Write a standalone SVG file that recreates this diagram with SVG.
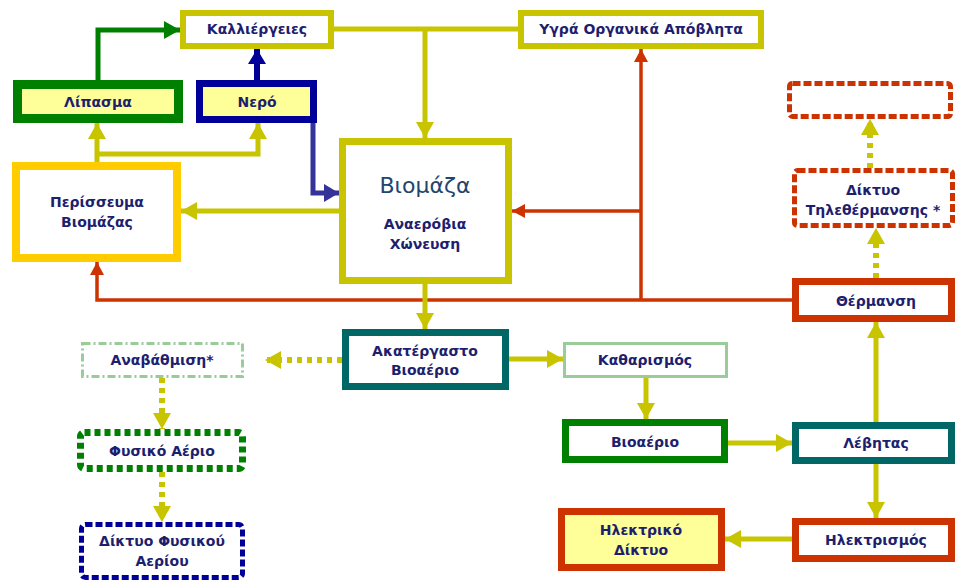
<svg xmlns="http://www.w3.org/2000/svg" width="955" height="581" viewBox="0 0 955 581">
<style>
text{font-family:"DejaVu Sans","Noto Sans",sans-serif;font-weight:bold;font-size:14px;fill:#1E1E6E;text-anchor:middle;dominant-baseline:central}
.big{font-size:22px;font-weight:normal;fill:#23446F}
.n rect{fill:#fff}
.y rect{fill:#FFFF99}
.conn path{fill:none;stroke-linejoin:miter}
</style>
<defs>
<marker id="aO" markerUnits="userSpaceOnUse" markerWidth="18" markerHeight="18" refX="16" refY="9" orient="auto"><path d="M0,0 L16,9 L0,18 z" fill="#C8C400"/></marker>
<marker id="aR" markerUnits="userSpaceOnUse" markerWidth="14" markerHeight="14" refX="13" refY="7" orient="auto"><path d="M0,0 L13,7 L0,14 z" fill="#CC3300"/></marker>
<marker id="aG" markerUnits="userSpaceOnUse" markerWidth="18" markerHeight="18" refX="16" refY="9" orient="auto"><path d="M0,0 L16,9 L0,18 z" fill="#008000"/></marker>
<marker id="aN" markerUnits="userSpaceOnUse" markerWidth="18" markerHeight="18" refX="15" refY="9" orient="auto"><path d="M0,0 L15,9 L0,18 z" fill="#000099"/></marker>
<marker id="aP" markerUnits="userSpaceOnUse" markerWidth="18" markerHeight="18" refX="15" refY="9" orient="auto"><path d="M0,0 L15,9 L0,18 z" fill="#333399"/></marker>
</defs>

<g id="connectors" class="conn">
<path d="M98,80 V30 H180" stroke="#008000" stroke-width="5" marker-end="url(#aG)"/>
<path d="M257,80 V49" stroke="#000099" stroke-width="6" marker-end="url(#aN)"/>
<path d="M313,123 V193 H339" stroke="#333399" stroke-width="5" marker-end="url(#aP)"/>
<path d="M97,162 V123" stroke="#C8C400" stroke-width="5" marker-end="url(#aO)"/>
<path d="M97,154 H258 V123" stroke="#C8C400" stroke-width="5" marker-end="url(#aO)"/>
<path d="M334,29 H518" stroke="#C8C400" stroke-width="5"/>
<path d="M425,29 V138" stroke="#C8C400" stroke-width="5" marker-end="url(#aO)"/>
<path d="M339,211 H181" stroke="#C8C400" stroke-width="5" marker-end="url(#aO)"/>
<path d="M792,300 H97 V262" stroke="#CC3300" stroke-width="3.5" marker-end="url(#aR)"/>
<path d="M641,300 V49" stroke="#CC3300" stroke-width="3.5" marker-end="url(#aR)"/>
<path d="M641,211 H512" stroke="#CC3300" stroke-width="3.5" marker-end="url(#aR)"/>
<path d="M425,284 V329" stroke="#C8C400" stroke-width="5" marker-end="url(#aO)"/>
<path d="M342,360 H265" stroke="#C8C400" stroke-width="6" stroke-dasharray="5 5" marker-end="url(#aO)"/>
<path d="M162,378 V429" stroke="#C8C400" stroke-width="6" stroke-dasharray="5 5" marker-end="url(#aO)"/>
<path d="M162,472 V522" stroke="#C8C400" stroke-width="6" stroke-dasharray="5 5" marker-end="url(#aO)"/>
<path d="M509,359 H563" stroke="#C8C400" stroke-width="5" marker-end="url(#aO)"/>
<path d="M646,378 V419" stroke="#C8C400" stroke-width="5" marker-end="url(#aO)"/>
<path d="M728,443 H792" stroke="#C8C400" stroke-width="5" marker-end="url(#aO)"/>
<path d="M876,422 V322" stroke="#C8C400" stroke-width="5" marker-end="url(#aO)"/>
<path d="M876,464 V518" stroke="#C8C400" stroke-width="5" marker-end="url(#aO)"/>
<path d="M792,539 H725" stroke="#C8C400" stroke-width="5" marker-end="url(#aO)"/>
<path d="M876,278 V228" stroke="#C8C400" stroke-width="6" stroke-dasharray="5 5" marker-end="url(#aO)"/>
<path d="M870,168 V119" stroke="#C8C400" stroke-width="6" stroke-dasharray="5 5" marker-end="url(#aO)"/>
</g>

<g id="kalliergeies" class="n"><rect x="183" y="13" width="148" height="33" stroke="#C8C400" stroke-width="6"/><text x="257" y="29">Καλλιέργειες</text></g>
<g id="lipasma" class="y"><rect x="17.5" y="84.5" width="161" height="34" stroke="#008000" stroke-width="9"/><text x="98" y="102">Λίπασμα</text></g>
<g id="nero" class="y"><rect x="199.5" y="83.5" width="114" height="36" stroke="#000099" stroke-width="7"/><text x="257" y="102">Νερό</text></g>
<g id="perisseuma" class="n"><rect x="16" y="166" width="161" height="92" stroke="#FFCC00" stroke-width="8"/><text x="97" y="202">Περίσσευμα</text><text x="97" y="222">Βιομάζας</text></g>
<g id="viomaza" class="n"><rect x="342.5" y="141.5" width="166" height="139" stroke="#C8C400" stroke-width="7"/><text class="big" x="425" y="185">Βιομάζα</text><text x="425" y="224">Αναερόβια</text><text x="425" y="244">Χώνευση</text></g>
<g id="ygra" class="n"><rect x="521" y="13" width="240" height="33" stroke="#C8C400" stroke-width="6"/><text x="641" y="29">Υγρά Οργανικά Απόβλητα</text></g>
<g id="empty-dashed" class="n"><rect x="789.5" y="83.5" width="161" height="33" rx="3" stroke="#CC3300" stroke-width="5" stroke-dasharray="8 3"/></g>
<g id="tilethermansi" class="n"><rect x="794.5" y="170.5" width="158" height="55" rx="3" stroke="#CC3300" stroke-width="5" stroke-dasharray="8 3"/><text x="873" y="190">Δίκτυο</text><text x="873" y="210">Τηλεθέρμανσης *</text></g>
<g id="thermansi" class="n"><rect x="795.5" y="281.5" width="156" height="37" stroke="#CC3300" stroke-width="7"/><text x="876" y="301">Θέρμανση</text></g>
<g id="akatergasto" class="n"><rect x="345.5" y="332.5" width="160" height="54" stroke="#006666" stroke-width="7"/><text x="425" y="351">Ακατέργαστο</text><text x="425" y="370">Βιοαέριο</text></g>
<g id="anavathmisi" class="n"><rect x="82.5" y="343.5" width="160" height="33" stroke="#99CC99" stroke-width="3" stroke-dasharray="8 3 2 3"/><text x="162" y="360">Αναβάθμιση*</text></g>
<g id="katharismos" class="n"><rect x="564.5" y="343.5" width="162" height="33" stroke="#99CC99" stroke-width="3"/><text x="645" y="360">Καθαρισμός</text></g>
<g id="fysiko-aerio" class="n"><rect x="80.5" y="432.5" width="162" height="36" rx="4" stroke="#008000" stroke-width="7" stroke-dasharray="6 4"/><text x="162" y="451">Φυσικό Αέριο</text></g>
<g id="diktyo-fysikou" class="n"><rect x="81.5" y="524.5" width="161" height="53" rx="4" stroke="#000099" stroke-width="5" stroke-dasharray="7 3"/><text x="162" y="541">Δίκτυο Φυσικού</text><text x="162" y="561">Αερίου</text></g>
<g id="vioaerio" class="n"><rect x="565.5" y="422.5" width="159" height="37" stroke="#008000" stroke-width="7"/><text x="645" y="442">Βιοαέριο</text></g>
<g id="levitas" class="n"><rect x="795.5" y="425.5" width="156" height="35" stroke="#006666" stroke-width="7"/><text x="876" y="443">Λέβητας</text></g>
<g id="ilektrismos" class="n"><rect x="795.5" y="521.5" width="156" height="37" stroke="#CC3300" stroke-width="7"/><text x="876" y="540">Ηλεκτρισμός</text></g>
<g id="ilektriko-diktyo" class="y"><rect x="561.5" y="511.5" width="160" height="56" stroke="#CC3300" stroke-width="7"/><text x="641" y="530">Ηλεκτρικό</text><text x="641" y="550">Δίκτυο</text></g>
</svg>
